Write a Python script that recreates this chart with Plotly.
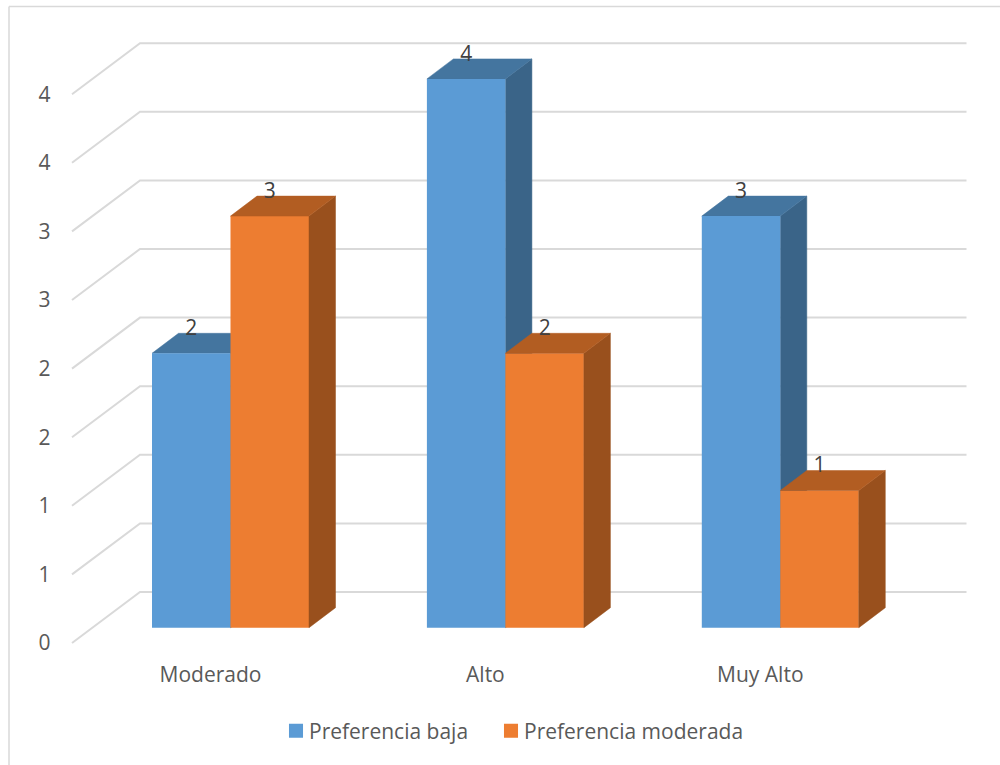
import plotly.graph_objects as go

categories = ["Moderado", "Alto", "Muy Alto"]
pref_baja = [2, 4, 3]
pref_moderada = [3, 2, 1]
tick_vals = [0, 0.5, 1, 1.5, 2, 2.5, 3, 3.5, 4]
tick_text = ["0", "1", "1", "2", "2", "3", "3", "4", "4"]
grid_vals = [0, 0.5, 1, 1.5, 2, 2.5, 3, 3.5, 4]

W, H = 1000, 765
PLOT_BOTTOM = 660
PX_X = 274.9          # pixels per category
PX_Y = 137.2          # pixels per value unit
CAT0_PX = 230.5
WALL0_PX = 643.0      # value 0 on the front edge of the side wall
BAR0_PX = 627.7       # value 0 on the front of the bars
BAR_W = 78.5 / PX_X
GROUP_W = 2 * BAR_W


def xd(px):
    return (px - CAT0_PX) / PX_X


wall_dx, wall_dy = 68 / PX_X, 51 / PX_Y
bar_dx, bar_dy = 26.5 / PX_X, 20 / PX_Y
wall_left, wall_right = xd(72), xd(966.5)
shift = (WALL0_PX - BAR0_PX) / PX_Y   # bar value -> wall axis value

FONT = "Open Sans"
TEXT_SIZE = 21
BLUE, BLUE_TOP, BLUE_SIDE = "#5B9BD5", "#44759F", "#3A6488"
ORANGE, ORANGE_TOP, ORANGE_SIDE = "#ED7D31", "#B25D22", "#99501D"
GRID = "#D9D9D9"

fig = go.Figure()

# wall and floor gridlines: front edge, back corner, then along the back wall
gx, gy = [], []
for v in grid_vals:
    gx += [wall_left, wall_left + wall_dx, wall_right, None]
    gy += [v, v + wall_dy, v + wall_dy, None]
fig.add_trace(go.Scatter(x=gx, y=gy, mode="lines", line=dict(color=GRID, width=2),
                         showlegend=False, hoverinfo="skip", xaxis="x", yaxis="y"))


def faces(values, x_off, y_add):
    tx, ty, sx, sy = [], [], [], []
    for i, v in enumerate(values):
        l, r = i + x_off, i + x_off + BAR_W
        t = v + y_add
        b = y_add
        tx += [l, l + bar_dx, r + bar_dx, r, l, None]
        ty += [t, t + bar_dy, t + bar_dy, t, t, None]
        sx += [r, r + bar_dx, r + bar_dx, r, r, None]
        sy += [b, b + bar_dy, t + bar_dy, t, b, None]
    return tx, ty, sx, sy


def add_faces(values, x_off, y_add, top, side, yaxis):
    tx, ty, sx, sy = faces(values, x_off, y_add)
    for fx, fy, c in ((sx, sy, side), (tx, ty, top)):
        fig.add_trace(go.Scatter(x=fx, y=fy, mode="lines", fill="toself", fillcolor=c,
                                 line=dict(color=c, width=0.5), showlegend=False,
                                 hoverinfo="skip", xaxis="x", yaxis=yaxis))


# blue depth faces sit under the bars, so they live on the lower subplot
add_faces(pref_baja, -BAR_W, shift, BLUE_TOP, BLUE_SIDE, "y")

fig.add_trace(go.Bar(x=[0, 1, 2], y=pref_baja, name="Preferencia baja\u00a0\u00a0", marker_color=BLUE,
                     marker_line_width=0, xaxis="x", yaxis="y2"))
fig.add_trace(go.Bar(x=[0, 1, 2], y=pref_moderada, name="Preferencia moderada", marker_color=ORANGE,
                     marker_line_width=0, xaxis="x", yaxis="y2"))

add_faces(pref_moderada, 0, 0, ORANGE_TOP, ORANGE_SIDE, "y2")

# data labels
label_lift = 23.5 / PX_Y
lx = [i - BAR_W / 2 for i in range(3)] + [i + BAR_W / 2 for i in range(3)]
vals = pref_baja + pref_moderada
fig.add_trace(go.Scatter(x=lx, y=[v + label_lift for v in vals], mode="text",
                         text=[str(v) for v in vals], textposition="middle center",
                         textfont=dict(family=FONT, size=TEXT_SIZE, color="#404040"),
                         showlegend=False, hoverinfo="skip", xaxis="x", yaxis="y2"))

tick_font = dict(family=FONT, size=TEXT_SIZE, color="#595959")
fig.update_layout(
    width=W, height=H, margin=dict(l=0, r=0, t=0, b=H - PLOT_BOTTOM, pad=0),
    paper_bgcolor="white", plot_bgcolor="white",
    barmode="group", bargap=1 - GROUP_W, bargroupgap=0,
    font=tick_font,
    xaxis=dict(range=[xd(0), xd(W)], tickmode="array", tickvals=[0, 1, 2], ticktext=categories,
               ticklabelshift=-20, ticklen=0, ticklabelstandoff=0, showgrid=False,
               zeroline=False, showline=False, tickfont=tick_font),
    yaxis=dict(range=[(WALL0_PX - PLOT_BOTTOM) / PX_Y, WALL0_PX / PX_Y], tickmode="array",
               tickvals=tick_vals, ticktext=tick_text, ticks="", showgrid=False, zeroline=False,
               showline=False, anchor="free", position=0.0505, tickfont=tick_font),
    yaxis2=dict(range=[(BAR0_PX - PLOT_BOTTOM) / PX_Y, BAR0_PX / PX_Y], overlaying="y", visible=False),
    legend=dict(orientation="h", x=0.269, xanchor="left", y=-(731 - PLOT_BOTTOM) / PLOT_BOTTOM,
                yanchor="middle", font=tick_font, bgcolor="rgba(0,0,0,0)"),
    shapes=[
        dict(type="line", xref="paper", yref="paper", x0=9 / W, x1=9 / W, y0=(PLOT_BOTTOM - 6.5) / PLOT_BOTTOM,
             y1=(PLOT_BOTTOM - H) / PLOT_BOTTOM, line=dict(color=GRID, width=1.5)),
        dict(type="line", xref="paper", yref="paper", x0=9 / W, x1=1, y0=(PLOT_BOTTOM - 6.5) / PLOT_BOTTOM,
             y1=(PLOT_BOTTOM - 6.5) / PLOT_BOTTOM, line=dict(color=GRID, width=1.5)),
    ],
)

post = """
document.body.style.margin='0';
document.querySelectorAll('.legend .legendpoints').forEach(function(g){
  g.setAttribute('transform','translate(27,0) scale(1.17) translate(-20,0)');
});
"""
fig.write_html("out.html", post_script=post, config={"displayModeBar": False})
